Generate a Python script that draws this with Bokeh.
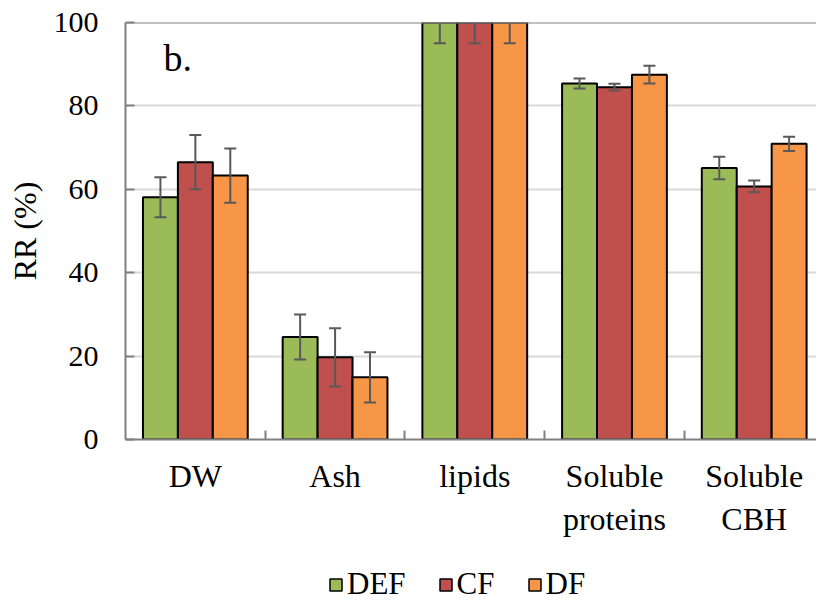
import numpy as np
from bokeh.plotting import figure
from bokeh.layouts import column
from bokeh.models import (Range1d, FixedTicker, Legend, LegendItem, Label, Span,
                          ColumnDataSource)
from bokeh.embed import file_html
from bokeh.resources import INLINE

# ---- data ----
categories = ["DW", "Ash", "lipids", "Soluble\nproteins", "Soluble\nCBH"]
series = ["DEF", "CF", "DF"]
colors = ["#9BBB59", "#C0504D", "#F79646"]
def_vals = [58.1, 24.6, 100.0, 85.4, 65.1]
def_err = [4.8, 5.4, 5.0, 1.2, 2.7]
cf_vals = [66.5, 19.7, 100.0, 84.5, 60.7]
cf_err = [6.5, 7.0, 5.0, 0.8, 1.4]
df_vals = [63.3, 14.9, 100.0, 87.5, 70.9]
df_err = [6.5, 6.0, 5.0, 2.1, 1.7]
y_ticks = [0, 20, 40, 60, 80, 100]

FONT = "Liberation Serif"

p = figure(width=816, height=560, output_backend="svg", toolbar_location=None,
           x_range=Range1d(-0.5, 4.446), y_range=Range1d(0, 100),
           min_border_left=125, min_border_top=22, min_border_bottom=121,
           min_border_right=0)
p.outline_line_color = None
p.background_fill_color = "white"

xs = np.arange(len(categories))
offsets = [-0.25, 0.0, 0.25]
vals = [def_vals, cf_vals, df_vals]
errs = [def_err, cf_err, df_err]
cap = 0.043
sources = []
for name, col, off, v, e in zip(series, colors, offsets, vals, errs):
    v = np.array(v)
    e = np.array(e)
    x = xs + off
    src = ColumnDataSource(dict(x=x, top=v, lo=v - e, hi=v + e,
                                xl=x - cap, xr=x + cap))
    sources.append(src)
    p.vbar(x="x", top="top", width=0.25, source=src, fill_color=col,
           line_color="black", line_width=2)
    p.segment(x0="x", y0="lo", x1="x", y1="hi", source=src,
              line_color="#595959", line_width=2)
    p.segment(x0="xl", y0="hi", x1="xr", y1="hi", source=src,
              line_color="#595959", line_width=2)
    p.segment(x0="xl", y0="lo", x1="xr", y1="lo", source=src,
              line_color="#595959", line_width=2)

# top line at 100
p.add_layout(Span(location=100, dimension="width", line_color="#808080",
                  line_width=2))

# axes
xa = p.xaxis[0]
xa.ticker = FixedTicker(ticks=list(xs), minor_ticks=[0.5, 1.5, 2.5, 3.5])
xa.major_label_overrides = {int(i): c for i, c in enumerate(categories)}
xa.major_tick_line_color = None
xa.minor_tick_in = 9
xa.minor_tick_out = 0
xa.minor_tick_line_color = "#808080"
xa.minor_tick_line_width = 2
xa.axis_line_color = "#808080"
xa.axis_line_width = 2
xa.major_label_text_font = FONT
xa.major_label_text_font_size = "32px"
xa.major_label_text_color = "black"
xa.major_label_standoff = 12

ya = p.yaxis[0]
ya.ticker = FixedTicker(ticks=y_ticks)
ya.minor_tick_line_color = None
ya.major_tick_in = 9
ya.major_tick_out = 0
ya.major_tick_line_color = "#808080"
ya.major_tick_line_width = 2
ya.axis_line_color = "#808080"
ya.axis_line_width = 2
ya.major_label_text_font = FONT
ya.major_label_text_font_size = "30px"
ya.major_label_text_color = "black"
ya.major_label_standoff = 27
ya.axis_label = "RR (%)"
ya.axis_label_text_font = FONT
ya.axis_label_text_font_size = "32px"
ya.axis_label_text_font_style = "normal"
ya.axis_label_text_color = "black"
ya.axis_label_standoff = 8

p.xgrid.grid_line_color = None
p.ygrid.ticker = FixedTicker(ticks=[20, 40, 60, 80])
p.ygrid.grid_line_color = "#d9d9d9"
p.ygrid.grid_line_width = 2

# panel label
p.add_layout(Label(x=-0.228, y=91.5, text="b.", text_font=FONT,
                   text_font_size="38px", text_color="black",
                   text_baseline="alphabetic"))

# ---- legend strip (separate figure below the chart) ----
# The proxy bars lie outside this strip's ranges, so only their legend swatches show.
lp = figure(width=816, height=42, output_backend="svg", toolbar_location=None,
            x_axis_location=None, y_axis_location=None,
            x_range=Range1d(-101, -100), y_range=Range1d(1000, 1001),
            min_border=0)
lp.outline_line_color = None
lp.grid.grid_line_color = None
leg_renderers = []
for col, src in zip(colors, sources):
    leg_renderers.append(lp.vbar(x="x", top="top", width=0.25, source=src,
                                 fill_color=col, line_color="black",
                                 line_width=1.5))
legend = Legend(items=[LegendItem(label=s, renderers=[r])
                       for s, r in zip(series, leg_renderers)],
                location=(203, 0), orientation="horizontal",
                glyph_width=15, glyph_height=15, label_standoff=4,
                spacing=32, padding=0, margin=0,
                label_text_font=FONT, label_text_font_size="31px",
                label_text_color="black",
                border_line_color=None, background_fill_alpha=0)
lp.add_layout(legend, "center")

layout = column(p, lp, spacing=0)
open("out.html", "w").write(file_html(layout, INLINE))
